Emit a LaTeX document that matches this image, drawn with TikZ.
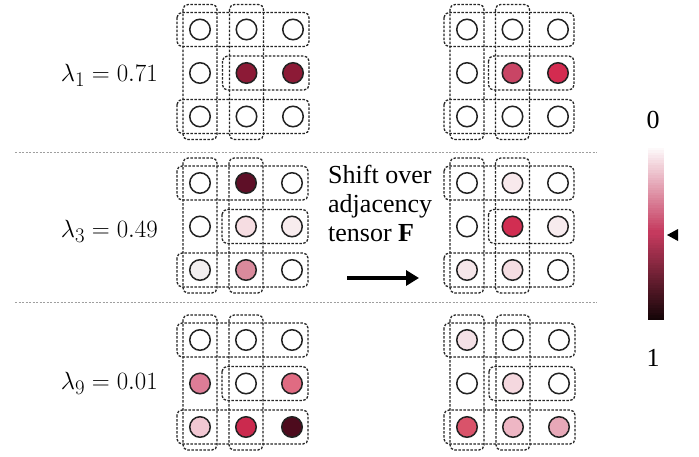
\documentclass[tikz,border=0pt]{standalone}
\usepackage{fontspec}
\setmainfont{Liberation Serif}
\usetikzlibrary{arrows.meta,calc}
\definecolor{cA}{HTML}{8C1A36}
\definecolor{cBa}{HTML}{C94565}
\definecolor{cBb}{HTML}{D42B50}
\definecolor{cCa}{HTML}{5E0F27}
\definecolor{cCb}{HTML}{F6DDE2}
\definecolor{cCc}{HTML}{F8ECEE}
\definecolor{cCd}{HTML}{F2EFF0}
\definecolor{cCe}{HTML}{D98A9C}
\definecolor{cDa}{HTML}{F8E9EC}
\definecolor{cDb}{HTML}{D12E52}
\definecolor{cDc}{HTML}{F7EBEE}
\definecolor{cDd}{HTML}{F5E6E9}
\definecolor{cDe}{HTML}{F5DEE3}
\definecolor{cEa}{HTML}{DD7C96}
\definecolor{cEb}{HTML}{E06B82}
\definecolor{cEc}{HTML}{F2C8D3}
\definecolor{cEd}{HTML}{CB2A4E}
\definecolor{cEe}{HTML}{4D0B1D}
\definecolor{cFa}{HTML}{F4E1E6}
\definecolor{cFb}{HTML}{F5D8DF}
\definecolor{cFc}{HTML}{D9536A}
\definecolor{cFd}{HTML}{EEB6C4}
\definecolor{cFe}{HTML}{E7A8B8}
\definecolor{barmid}{HTML}{C53A5E}
\definecolor{bardark}{HTML}{150508}
\definecolor{strokec}{HTML}{222222}

\newcommand{\cellgrid}[5]{%
  \foreach \col [count=\i from 0] in {#5} {%
    \pgfmathtruncatemacro{\rr}{floor(\i/3)+1}%
    \pgfmathtruncatemacro{\kk}{mod(\i,3)+1}%
    \node[dot, fill=\col] (#1-\rr-\kk) at ({#2+(\kk-1)*#3},{#4+(\rr-1)*43.5}) {};
  }%
  \draw[dbox] ([shift={(-17,-25)}]#1-1-1.center) rectangle ([shift={(17,23)}]#1-3-1.center);
  \draw[dbox] ([shift={(-17,-25)}]#1-1-2.center) rectangle ([shift={(17,23)}]#1-3-2.center);
  \draw[dbox] ([shift={(-23,-17)}]#1-1-1.center) rectangle ([shift={(16,17)}]#1-1-3.center);
  \draw[dbox] ([shift={(-24,-17)}]#1-2-2.center) rectangle ([shift={(16,17)}]#1-2-3.center);
  \draw[dbox] ([shift={(-23,-17)}]#1-3-1.center) rectangle ([shift={(16,17)}]#1-3-3.center);
}

\begin{document}
\begin{tikzpicture}[x=1pt,y=-1pt,
  dot/.style={circle, draw=strokec, line width=1.5pt, minimum size=20.5pt, inner sep=0pt},
  dbox/.style={draw=black!85, line width=1.3pt, dash pattern=on 2.5pt off 1.5pt, rounded corners=5pt},
  sepline/.style={draw=gray!75, line width=0.8pt, dash pattern=on 2pt off 1.5pt},
  lab/.style={anchor=east, inner sep=0pt, font=\fontsize{27.5}{30}\selectfont},
  num/.style={inner sep=0pt, font=\fontsize{26}{28}\selectfont},
  bigarrow/.style={line width=4.5pt, -{Triangle[length=13pt,width=15pt]}}
]
\useasboundingbox (0,0) rectangle (699,456);
\fill[white] (0,0) rectangle (699,456);

% separators
\coordinate (s1a) at (15,152); \coordinate (s1b) at (597,152);
\coordinate (s2a) at (15,302); \coordinate (s2b) at (597,302);
\draw[sepline] (s1a) -- (s1b);
\draw[sepline] (s2a) -- (s2b);

% grids
\cellgrid{A}{200}{46.5}{29.5}{white,white,white,white,cA,cA,white,white,white}
\cellgrid{B}{467}{45.5}{29.5}{white,white,white,white,cBa,cBb,white,white,white}
\cellgrid{C}{200}{46}{183}{white,cCa,white,white,cCb,cCc,cCd,cCe,white}
\cellgrid{D}{467}{45.5}{183}{white,cDa,white,white,cDb,cDc,cDd,cDe,white}
\cellgrid{E}{200}{46}{340}{white,white,white,cEa,white,cEb,cEc,cEd,cEe}
\cellgrid{F}{467}{46}{340}{cFa,white,white,white,cFb,white,cFc,cFd,cFe}

% lambda labels
\node[lab] (l1) at (158,75) {$\lambda_1 = 0.71$};
\node[lab] (l3) at (158,231) {$\lambda_3 = 0.49$};
\node[lab] (l9) at (158,383) {$\lambda_9 = 0.01$};

% shift text and arrow
\node[anchor=north west, align=left, inner sep=0pt, font=\fontsize{26}{29}\selectfont] (shift) at (328,165) {Shift over\\adjacency\\tensor \textbf{F}};
\coordinate (as) at (347,278);
\coordinate (ae) at (419,278);
\draw[bigarrow] (as) -- (ae);

% colour bar (stacked slices)
\foreach \j in {0,...,34} {
  \pgfmathtruncatemacro{\p}{round(\j*100/34)}
  \fill[barmid!\p!white] (648,{145+\j*2.5}) rectangle (664,{145+\j*2.5+2.7});
}
\foreach \j in {0,...,34} {
  \pgfmathtruncatemacro{\p}{round(\j*100/34)}
  \fill[bardark!\p!barmid] (648,{232.5+\j*2.5}) rectangle (664,{232.5+\j*2.5+2.7});
}
\node[inner sep=0pt, minimum width=16pt, minimum height=175pt] (bar) at (656,232.5) {};
\node[num] (zero) at (653,120) {0};
\node[num] (one) at (653,358) {1};
\fill[black] (667,235) -- (678,229) -- (678,241) -- cycle;
\end{tikzpicture}
\end{document}
